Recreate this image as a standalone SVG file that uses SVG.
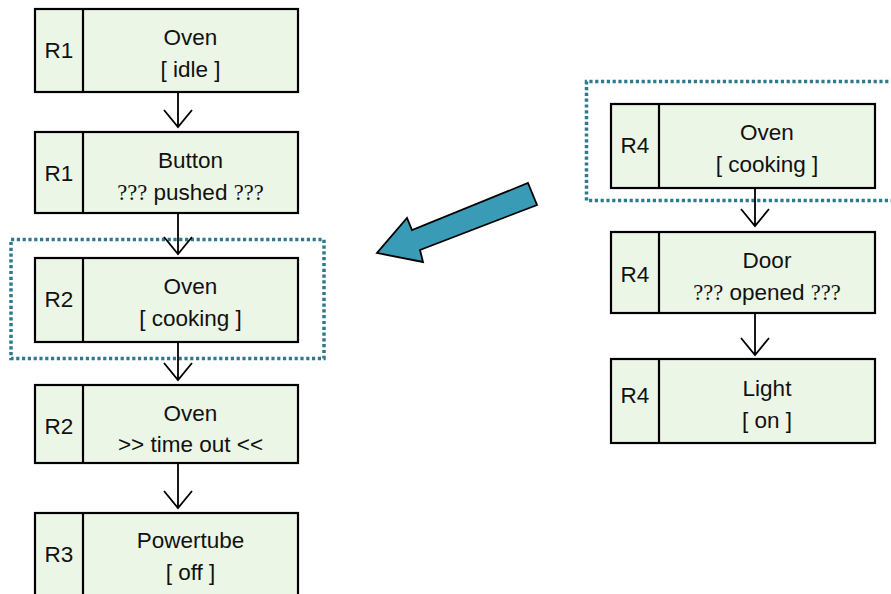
<svg xmlns="http://www.w3.org/2000/svg" width="891" height="594" viewBox="0 0 891 594">
<style>
.box{fill:#EBF6E6;stroke:#000;stroke-width:2.2}
.div{stroke:#000;stroke-width:2.2}
.t{font-family:"Liberation Sans",Arial,sans-serif;font-size:22.5px;fill:#111;text-anchor:middle}
.q{font-family:"Liberation Serif","Times New Roman",serif}
.con{stroke:#000;stroke-width:1.8;fill:none}
.dot{fill:none;stroke:#2E7A8C;stroke-width:3.5;stroke-dasharray:3.2 2.6}
</style>
<rect width="891" height="594" fill="#fff"/>
<g id="groups">
<rect class="dot" x="11" y="239.5" width="313" height="119"/>
<path class="dot" d="M900,81.5 H586.5 V200.5 H900"/>
</g>
<g id="connectors">
<path class="con" d="M178,92 V127 M164,110 L178,127 L192,110"/>
<path class="con" d="M178,213 V254 M164,237 L178,254 L192,237"/>
<path class="con" d="M178,342 V380 M164,363 L178,380 L192,363"/>
<path class="con" d="M178,463 V508 M164,491 L178,508 L192,491"/>
<path class="con" d="M755,188 V226 M741,209 L755,226 L769,209"/>
<path class="con" d="M755,313 V355 M741,338 L755,355 L769,338"/>
<polygon points="528,183 537,205 420,250 423,262 377,253 407,218 412,230" fill="#3A9BB6" stroke="#000" stroke-width="1.8" stroke-linejoin="miter"/>
</g>
<g id="n1">
<rect class="box" x="35" y="9" width="263" height="83"/><line class="div" x1="83" y1="9" x2="83" y2="92"/>
<text class="t" x="59" y="58">R1</text><text class="t" x="190.5" y="45">Oven</text><text class="t" x="190.5" y="77">[ idle ]</text>
</g>
<g id="n2">
<rect class="box" x="35" y="132" width="263" height="81"/><line class="div" x1="83" y1="132" x2="83" y2="213"/>
<text class="t" x="59" y="181">R1</text><text class="t" x="190.5" y="168">Button</text><text class="t" x="190.5" y="200"><tspan class="q">???</tspan> pushed <tspan class="q">???</tspan></text>
</g>
<g id="n3">
<rect class="box" x="35" y="258" width="263" height="84"/><line class="div" x1="83" y1="258" x2="83" y2="342"/>
<text class="t" x="59" y="307">R2</text><text class="t" x="190.5" y="294">Oven</text><text class="t" x="190.5" y="326">[ cooking ]</text>
</g>
<g id="n4">
<rect class="box" x="35" y="385" width="263" height="78"/><line class="div" x1="83" y1="385" x2="83" y2="463"/>
<text class="t" x="59" y="434">R2</text><text class="t" x="190.5" y="421">Oven</text><text class="t" x="190.5" y="452">&gt;&gt; time out &lt;&lt;</text>
</g>
<g id="n5">
<rect class="box" x="35" y="513" width="263" height="90"/><line class="div" x1="83" y1="513" x2="83" y2="603"/>
<text class="t" x="59" y="562">R3</text><text class="t" x="190.5" y="548">Powertube</text><text class="t" x="190.5" y="580">[ off ]</text>
</g>
<g id="n6">
<rect class="box" x="611" y="104" width="264" height="84"/><line class="div" x1="659" y1="104" x2="659" y2="188"/>
<text class="t" x="635" y="153">R4</text><text class="t" x="767" y="140">Oven</text><text class="t" x="767" y="172">[ cooking ]</text>
</g>
<g id="n7">
<rect class="box" x="611" y="232" width="264" height="81"/><line class="div" x1="659" y1="232" x2="659" y2="313"/>
<text class="t" x="635" y="282">R4</text><text class="t" x="767" y="268">Door</text><text class="t" x="767" y="300"><tspan class="q">???</tspan> opened <tspan class="q">???</tspan></text>
</g>
<g id="n8">
<rect class="box" x="611" y="359" width="264" height="84"/><line class="div" x1="659" y1="359" x2="659" y2="443"/>
<text class="t" x="635" y="403">R4</text><text class="t" x="767" y="396">Light</text><text class="t" x="767" y="428">[ on ]</text>
</g>
</svg>
